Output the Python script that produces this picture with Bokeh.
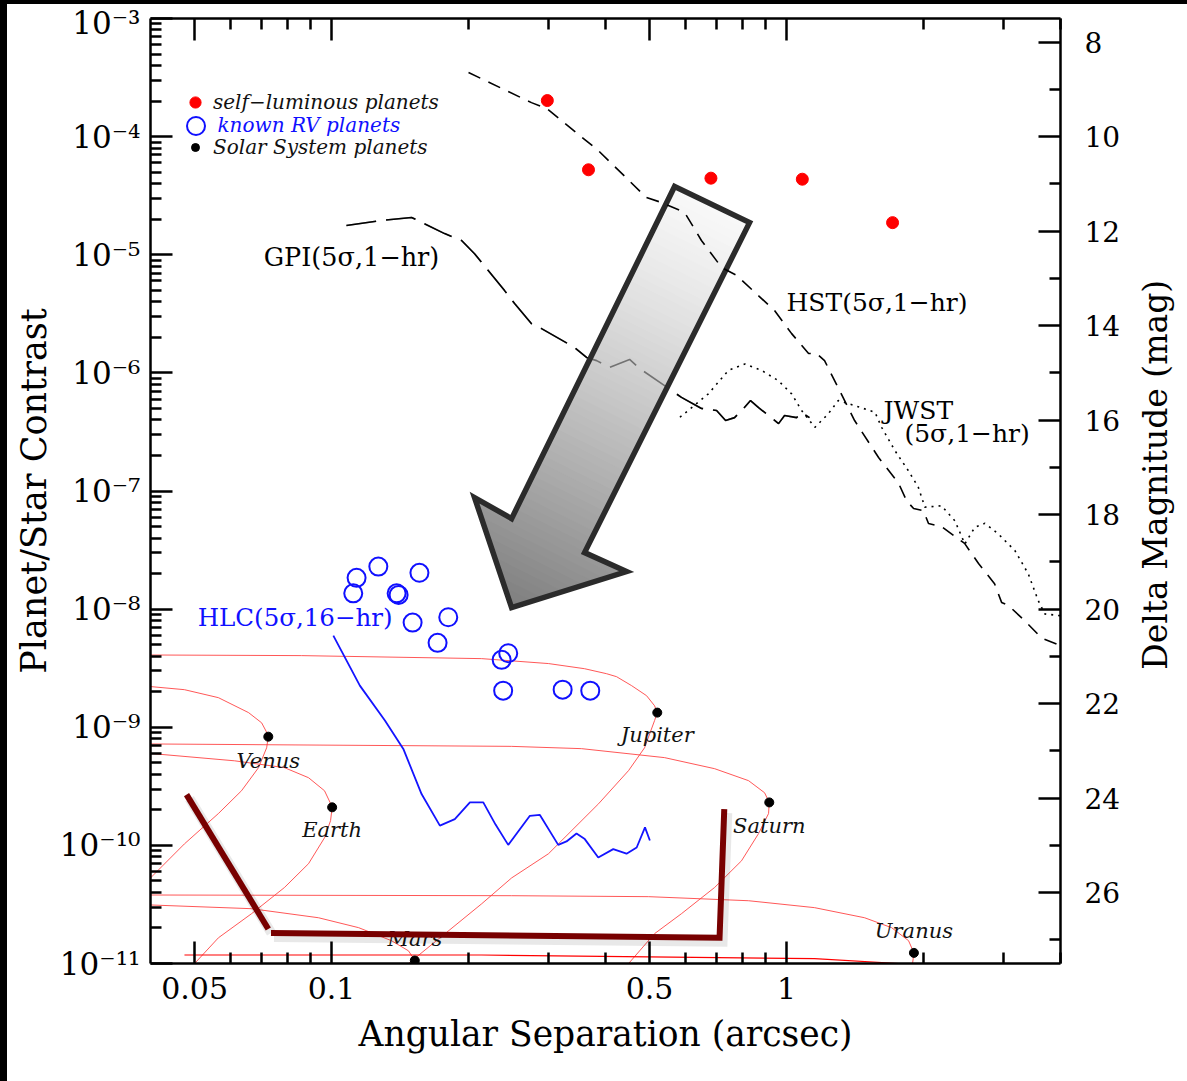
import math
from bokeh.plotting import figure
from bokeh.models import (Range1d, LinearScale, LinearAxis, LogAxis, FixedTicker,
                          CustomJSTickFormatter, Legend, LegendItem, Spacer)
from bokeh.layouts import column, row
from bokeh.core.properties import value
from bokeh.embed import file_html
from bokeh.resources import INLINE

SERIF = "DejaVu Serif"

# ---------------- data ----------------
# self-luminous planets
sl_x = [0.298, 0.367, 0.682, 1.083, 1.71]
sl_y = [2.02e-4, 5.24e-5, 4.45e-5, 4.36e-5, 1.87e-5]

# known RV planets
rv_x = [0.1135, 0.1116, 0.1267, 0.156, 0.139, 0.1404, 0.1805, 0.1507, 0.171,
        0.2445, 0.2365, 0.2383, 0.322, 0.3703]
rv_y = [1.84e-8, 1.36e-8, 2.29e-8, 2.03e-8, 1.36e-8, 1.32e-8, 8.53e-9, 7.69e-9, 5.18e-9,
        4.23e-9, 3.72e-9, 2.04e-9, 2.08e-9, 2.04e-9]

# Solar System planets (max elongation)
ss_names = ["Venus", "Earth", "Mars", "Jupiter", "Saturn", "Uranus"]
ss_x = [0.0726, 0.1003, 0.1524, 0.5198, 0.9162, 1.905]
ss_y = [8.32e-10, 2.10e-10, 1.06e-11, 1.33e-9, 2.31e-10, 1.23e-11]

# orbital phase curves
venus_x = [0.04, 0.0475, 0.0564, 0.0657, 0.0702, 0.0723, 0.0726, 0.0720, 0.0691, 0.0634, 0.0564, 0.0475, 0.04]
venus_y = [2.21e-9, 2.08e-9, 1.78e-9, 1.33e-9, 1.09e-9, 8.8e-10, 8.32e-10, 6.7e-10, 4.55e-10, 2.9e-10, 1.86e-10, 1.03e-10, 5.3e-11]
earth_x = [0.04, 0.0612, 0.0788, 0.0890, 0.0965, 0.1000, 0.1003, 0.0995, 0.0965, 0.0890, 0.0788, 0.0667, 0.0564, 0.0500]
earth_y = [6.0e-10, 5.2e-10, 4.55e-10, 3.74e-10, 2.9e-10, 2.17e-10, 2.10e-10, 1.62e-10, 1.16e-10, 7.0e-11, 4.4e-11, 2.64e-11, 1.65e-11, 1.0e-11]
mars_x = [0.04, 0.0667, 0.0936, 0.1147, 0.1354, 0.1476, 0.1524, 0.1520]
mars_y = [3.13e-11, 2.91e-11, 2.44e-11, 2.01e-11, 1.56e-11, 1.28e-11, 1.06e-11, 8e-12]
jup_x = [0.04, 0.0859, 0.2137, 0.2998, 0.3598, 0.4021, 0.4230, 0.4565, 0.4924, 0.5128, 0.5198,
         0.5128, 0.4874, 0.4496, 0.3862, 0.2998, 0.2487, 0.2137, 0.1476]
jup_y = [4.09e-9, 4.04e-9, 3.81e-9, 3.46e-9, 3.13e-9, 2.84e-9, 2.68e-9, 2.25e-9, 1.85e-9, 1.52e-9, 1.33e-9,
         1.14e-9, 6.7e-10, 4.3e-10, 2.25e-10, 8.5e-11, 5.3e-11, 3.2e-11, 1.0e-11]
sat_x = [0.04, 0.2487, 0.3543, 0.5394, 0.6948, 0.8250, 0.8947, 0.9162, 0.9129, 0.8680, 0.7961, 0.6948, 0.5875, 0.5128, 0.4496]
sat_y = [7.22e-10, 6.89e-10, 6.59e-10, 5.53e-10, 4.46e-10, 3.53e-10, 2.79e-10, 2.31e-10, 1.86e-10, 1.26e-10, 7.4e-11, 4.4e-11, 2.64e-11, 1.79e-11, 1.0e-11]
ura_x = [0.04, 0.2487, 0.4974, 0.8250, 1.152, 1.484, 1.702, 1.854, 1.905, 1.892]
ura_y = [3.80e-11, 3.75e-11, 3.68e-11, 3.40e-11, 2.97e-11, 2.44e-11, 2.01e-11, 1.56e-11, 1.23e-11, 1.0e-11]
nep_x = [0.0475, 0.2137, 0.4974, 1.152, 1.763]
nep_y = [1.18e-11, 1.18e-11, 1.14e-11, 1.10e-11, 1.0e-11]

# instrument contrast curves
hst_x = [0.200, 0.275, 0.297, 0.386, 0.492, 0.531, 0.597, 0.650, 0.720, 0.776, 0.941, 1.026, 1.118, 1.164,
         1.212, 1.411, 1.593, 1.763, 1.835, 1.902, 2.000, 2.051, 2.191, 2.462, 2.642, 2.865, 2.969, 3.076,
         3.335, 3.635, 4.0]
hst_y = [3.49e-4, 1.94e-4, 1.73e-4, 7.6e-5, 3.05e-5, 2.77e-5, 2.28e-5, 1.32e-5, 7.8e-6, 6.7e-6, 3.37e-6,
         2.15e-6, 1.46e-6, 1.46e-6, 1.27e-6, 3.95e-7, 1.92e-7, 1.16e-7, 8.3e-8, 7.1e-8, 6.8e-8, 5.3e-8,
         5.0e-8, 3.6e-8, 2.43e-8, 1.64e-8, 1.14e-8, 1.07e-8, 8.0e-9, 5.7e-9, 4.9e-9]
gpi_x = [0.1078, 0.1288, 0.1499, 0.1772, 0.1931, 0.2062, 0.2400, 0.2525, 0.2751, 0.2894, 0.3420, 0.3634,
         0.3825, 0.4083, 0.4519, 0.4753, 0.5394, 0.5875, 0.6502, 0.7018, 0.7345, 0.7686, 0.8045, 0.8333,
         0.8680, 0.9603, 0.9899, 1.052, 1.079, 1.123]
gpi_y = [1.77e-5, 1.95e-5, 2.07e-5, 1.51e-5, 1.32e-5, 1.02e-5, 4.97e-6, 3.86e-6, 2.61e-6, 2.37e-6, 1.64e-6,
         1.35e-6, 1.27e-6, 1.11e-6, 1.30e-6, 1.09e-6, 7.8e-7, 6.2e-7, 5.0e-7, 4.8e-7, 3.95e-7, 4.18e-7,
         5.0e-7, 5.83e-7, 5.08e-7, 3.72e-7, 4.35e-7, 4.18e-7, 4.61e-7, 4.18e-7]
jwst_x = [0.583, 0.673, 0.745, 0.810, 0.881, 0.959, 1.026, 1.079, 1.154, 1.235, 1.299, 1.413, 1.564, 1.618,
          1.730, 1.851, 1.947, 2.014, 2.191, 2.344, 2.465, 2.593, 2.728, 2.920, 3.176, 3.398, 3.574, 3.695, 4.0]
jwst_y = [4.21e-7, 6.64e-7, 1.05e-6, 1.19e-6, 1.05e-6, 8.6e-7, 6.64e-7, 4.8e-7, 3.46e-7, 4.5e-7, 5.83e-7,
          5.28e-7, 4.64e-7, 3.46e-7, 2.2e-7, 1.49e-7, 1.08e-7, 7.3e-8, 7.5e-8, 5.6e-8, 3.56e-8, 4.93e-8,
          5.33e-8, 4.33e-8, 3.13e-8, 1.99e-8, 1.18e-8, 9.1e-9, 8.8e-9]
hlc_x = [0.1009, 0.1154, 0.1310, 0.1438, 0.1577, 0.1730, 0.1866, 0.2014, 0.2155, 0.2293, 0.2445, 0.2728,
         0.2870, 0.3149, 0.3284, 0.3454, 0.3602, 0.3856, 0.4160, 0.4449, 0.4684, 0.4885, 0.5007]
hlc_y = [5.97e-9, 2.25e-9, 1.14e-9, 6.55e-10, 2.72e-10, 1.47e-10, 1.67e-10, 2.31e-10, 2.31e-10, 1.50e-10,
         1.01e-10, 1.78e-10, 1.81e-10, 1.01e-10, 1.08e-10, 1.26e-10, 1.13e-10, 7.9e-11, 9.3e-11, 8.5e-11,
         9.6e-11, 1.42e-10, 1.10e-10]

# maroon bracket (search region)
br1_x = [0.0480, 0.0726]
br1_y = [2.69e-10, 1.96e-11]
br2_x = [0.0736, 0.7124, 0.7296]
br2_y = [1.81e-11, 1.65e-11, 2.03e-10]

# big arrow outline
arrow_x = [0.5674, 0.8291, 0.3598, 0.4449, 0.2487, 0.2062, 0.2487]
arrow_y = [3.78e-5, 1.87e-5, 3.01e-8, 2.08e-8, 1.03e-8, 8.79e-8, 5.84e-8]

# curve labels
curve_labels = ["GPI(5σ,1−hr)", "HST(5σ,1−hr)", "JWST", "(5σ,1−hr)"]
curve_lab_x = [0.1106, 1.0, 1.634, 1.816]
curve_lab_y = [9.66e-6, 3.94e-6, 4.8e-7, 3.06e-7]
hlc_label = "HLC(5σ,16−hr)"
hlc_lab_x = 0.0508
hlc_lab_y = 8.47e-9

# axes
X_START, X_END = 0.04, 4.0
Y_START, Y_END = 1e-11, 1e-3
x_major = [0.05, 0.1, 0.5, 1]
x_minor = [0.06, 0.07, 0.08, 0.09, 0.2, 0.3, 0.4, 0.6, 0.7, 0.8, 0.9, 2, 3, 4]
y_major = [10.0 ** e for e in range(-11, -2)]
y_minor = [k * 10.0 ** e for e in range(-11, -3) for k in range(2, 10)]
mag_major = list(range(8, 27, 2))
mag_minor = list(range(9, 28, 2))
right_title = "Delta Magnitude (mag)"

# ---------------- figure ----------------
TITLE_W = 50                      # strip on the right holding the upward-reading title
FW, FH = 1180 - TITLE_W, 1077
BL, BR, BT, BB = 143, 77, 14, 118

p = figure(width=FW, height=FH, x_axis_type="log", y_axis_type="log",
           x_range=Range1d(X_START, X_END), y_range=Range1d(Y_START, Y_END),
           output_backend="svg", toolbar_location=None,
           min_border_left=BL, min_border_right=BR, min_border_top=BT, min_border_bottom=BB)
p.background_fill_color = "white"
p.border_fill_color = "white"
p.outline_line_color = None
p.xgrid.visible = False
p.ygrid.visible = False

p.extra_y_ranges = {"mag": Range1d(-2.5 * math.log10(Y_START), -2.5 * math.log10(Y_END))}
p.extra_y_scales = {"mag": LinearScale()}


def style_axis(ax, lab_size, title_size):
    ax.axis_line_width = 2.5
    ax.axis_line_color = "black"
    ax.major_tick_line_width = 2.5
    ax.minor_tick_line_width = 2.5
    ax.major_tick_line_color = "black"
    ax.minor_tick_line_color = "black"
    ax.major_tick_in = 22
    ax.major_tick_out = 0
    ax.minor_tick_in = 11
    ax.minor_tick_out = 0
    ax.major_label_text_font = SERIF
    ax.major_label_text_font_size = lab_size
    ax.major_label_text_color = "black"
    ax.axis_label_text_font = SERIF
    ax.axis_label_text_font_style = "normal"
    ax.axis_label_text_font_size = title_size
    ax.axis_label_text_color = "black"


xt = FixedTicker(ticks=x_major, minor_ticks=x_minor)
bx = p.xaxis[0]
bx.ticker = xt
bx.formatter = CustomJSTickFormatter(code="return String(tick);")
bx.axis_label = "Angular Separation (arcsec)"
style_axis(bx, "30px", "34.5px")
bx.major_label_standoff = 13
bx.axis_label_standoff = 12

ly = p.yaxis[0]
ly.ticker = FixedTicker(ticks=y_major, minor_ticks=y_minor)
ly.formatter = CustomJSTickFormatter(code="""
const e = Math.round(Math.log10(tick));
const m = {"-": "\u207b", "0": "\u2070", "1": "\u00b9", "2": "\u00b2", "3": "\u00b3", "4": "\u2074",
           "5": "\u2075", "6": "\u2076", "7": "\u2077", "8": "\u2078", "9": "\u2079"};
let s = "10";
for (const c of String(e)) { s += m[c]; }
return s;
""")
ly.axis_label = "Planet/Star Contrast"
style_axis(ly, "31px", "35px")
ly.major_label_standoff = 10
ly.axis_label_standoff = 3

top = LogAxis(ticker=FixedTicker(ticks=x_major, minor_ticks=x_minor),
              formatter=CustomJSTickFormatter(code="return '';"))
style_axis(top, "10px", "10px")
top.major_label_standoff = 0
p.add_layout(top, "above")

ry = LinearAxis(y_range_name="mag", ticker=FixedTicker(ticks=mag_major, minor_ticks=mag_minor))
style_axis(ry, "28px", "32px")
ry.major_label_standoff = 24
p.add_layout(ry, "right")

frame_w = FW - BL - BR
frame_h = FH - BT - BB

# ---------------- orbital phase curves ----------------
RED = "#ff3a3a"
for cx, cy in [(venus_x, venus_y), (earth_x, earth_y), (mars_x, mars_y), (jup_x, jup_y),
               (sat_x, sat_y), (ura_x, ura_y)]:
    p.line(cx, cy, line_color=RED, line_width=1, line_alpha=0.85)
p.line(nep_x, nep_y, line_color="#ff0000", line_width=1.2)

# ---------------- instrument curves ----------------
p.line(hlc_x, hlc_y, line_color="#1414ff", line_width=1.8)
p.line(gpi_x, gpi_y, line_color="black", line_width=1.6, line_dash="30 10")
p.line(jwst_x, jwst_y, line_color="black", line_width=1.6, line_dash="2 5")

# ---------------- arrow with gradient ----------------
KX = frame_w / math.log10(X_END / X_START)
KY = frame_h / math.log10(Y_END / Y_START)


def to_uv(x, y):
    return (math.log10(x) * KX, -math.log10(y) * KY)


def from_uv(u, v):
    return (10 ** (u / KX), 10 ** (-v / KY))


def clip(poly, a, b, c):
    out = []
    n = len(poly)
    for i in range(n):
        P = poly[i]
        Q = poly[(i + 1) % n]
        dp = a * P[0] + b * P[1] - c
        dq = a * Q[0] + b * Q[1] - c
        if dp >= 0:
            out.append(P)
        if (dp >= 0) != (dq >= 0):
            t = dp / (dp - dq)
            out.append((P[0] + t * (Q[0] - P[0]), P[1] + t * (Q[1] - P[1])))
    return out


poly = [to_uv(x, y) for x, y in zip(arrow_x, arrow_y)]
tail = ((poly[0][0] + poly[1][0]) / 2, (poly[0][1] + poly[1][1]) / 2)
tip = poly[4]
dx, dy = tip[0] - tail[0], tip[1] - tail[1]
L = math.hypot(dx, dy)
dx, dy = dx / L, dy / L
base = dx * tail[0] + dy * tail[1]
proj = [dx * q[0] + dy * q[1] - base for q in poly]
smin, smax = min(proj), max(proj)
N = 60
sx_list, sy_list, scol = [], [], []
for i in range(N):
    s0 = smin + (smax - smin) * i / N
    s1 = smin + (smax - smin) * (i + 1) / N + 1.0
    sub = clip(poly, dx, dy, base + s0)
    sub = clip(sub, -dx, -dy, -(base + s1))
    if len(sub) < 3:
        continue
    pts = [from_uv(u, v) for u, v in sub]
    sx_list.append([q[0] for q in pts])
    sy_list.append([q[1] for q in pts])
    t = (i + 0.5) / N
    g = int(round(248 - 122 * t ** 1.25))
    scol.append("#%02x%02x%02x" % (g, g, g))
p.patches(sx_list, sy_list, fill_color=scol, line_color=None)
# GPI faintly visible through the arrow
p.line(gpi_x, gpi_y, line_color="black", line_width=1.6, line_dash="30 10", line_alpha=0.45)
p.patch(arrow_x, arrow_y, fill_color=None, line_color="#2b2b2b", line_width=5.5, line_join="miter")

p.line(hst_x, hst_y, line_color="black", line_width=1.6, line_dash="13 9")

# ---------------- points ----------------
r_sl = p.scatter(sl_x, sl_y, marker="circle", size=12, fill_color="#ff0000", line_color="#ff0000")
r_rv = p.scatter(rv_x, rv_y, marker="circle", size=18, fill_color=None, line_color="#1010ff", line_width=2)
r_ss = p.scatter(ss_x, ss_y, marker="circle", size=9, fill_color="black", line_color="black")

ss_dy = [24, 23, -22, 22, 24, -22]
p.text(ss_x, ss_y, text=ss_names, y_offset=ss_dy, text_font=value(SERIF), text_font_style="italic",
       text_font_size="21px", text_align="center", text_baseline="middle", text_color="#111111")

# ---------------- bracket with shadow ----------------
fx = 10 ** (3 / KX)
fy = 10 ** (-4 / KY)
for bxs, bys in [(br1_x, br1_y), (br2_x, br2_y)]:
    p.line([v * fx for v in bxs], [v * fy for v in bys], line_color="black", line_alpha=0.09,
           line_width=10, line_join="miter")
p.line(br1_x, br1_y, line_color="#780000", line_width=6, line_cap="butt")
p.line(br2_x, br2_y, line_color="#780000", line_width=6, line_join="miter", line_cap="butt")

# ---------------- curve labels ----------------
p.text([curve_lab_x[0]], [curve_lab_y[0]], text=[curve_labels[0]], text_font=value(SERIF),
       text_font_size="25.5px", text_align="center", text_baseline="middle", text_color="black")
p.text(curve_lab_x[1:], curve_lab_y[1:], text=curve_labels[1:], text_font=value(SERIF),
       text_font_size="25px", text_align="left", text_baseline="middle", text_color="black")
p.text([hlc_lab_x], [hlc_lab_y], text=[hlc_label], text_font=value(SERIF),
       text_font_size="24.5px", text_align="left", text_baseline="middle", text_color="#1010ff")


# ---------------- legends ----------------
def add_legend(label, r, color, glyph, standoff, loc):
    lg = Legend(items=[LegendItem(label=label, renderers=[r])], location=loc,
                glyph_width=glyph, glyph_height=glyph, label_standoff=standoff,
                padding=0, margin=0, spacing=0, border_line_color=None,
                background_fill_alpha=0, label_height=glyph,
                label_text_font=SERIF, label_text_font_style="italic",
                label_text_font_size="20px", label_text_color=color)
    p.add_layout(lg, "center")


add_legend("self−luminous planets", r_sl, "#111111", 28, 4, (31, 847))
add_legend("known RV planets", r_rv, "#1010ff", 45, -4, (22.5, 815.5))
add_legend("Solar System planets", r_ss, "#111111", 20, 8, (35, 804))

# ---------------- right-axis title strip (reads bottom to top) ----------------
q = figure(width=TITLE_W, height=FH, x_range=Range1d(0, TITLE_W), y_range=Range1d(0, FH),
           output_backend="svg", toolbar_location=None, min_border=0,
           x_axis_location=None, y_axis_location=None)
q.outline_line_color = None
q.grid.visible = False
q.background_fill_color = "white"
q.border_fill_color = "white"
q.text([18], [FH - 520], text=[right_title], angle=math.pi / 2, text_font=value(SERIF),
       text_font_size="33px", text_align="center", text_baseline="middle", text_color="black")

# ---------------- page frame ----------------
top_bar = Spacer(width=FW + TITLE_W + 7, height=4, styles={"background-color": "black"})
left_bar = Spacer(width=7, height=FH, styles={"background-color": "black"})
layout = column(top_bar, row(left_bar, p, q))

open("out.html", "w").write(file_html(layout, INLINE))
